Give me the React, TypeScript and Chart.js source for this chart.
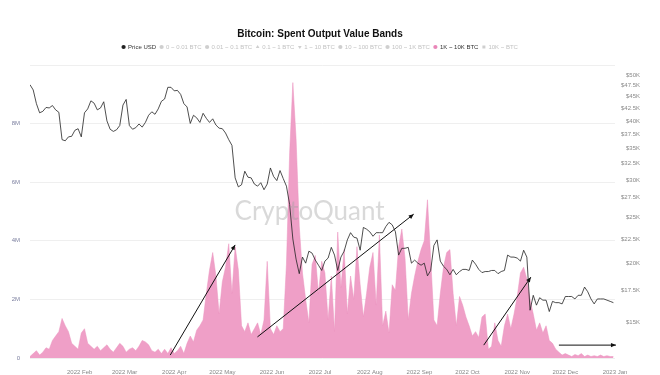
import React, { useEffect, useRef } from 'react';
import { Chart, registerables } from 'chart.js';
Chart.register(...registerables);

const TITLE = 'Bitcoin: Spent Output Value Bands';
const LEGEND_LABELS = ['Price USD', '0 ~ 0.01 BTC', '0.01 ~ 0.1 BTC', '0.1 ~ 1 BTC', '1 ~ 10 BTC', '10 ~ 100 BTC', '100 ~ 1K BTC', '1K ~ 10K BTC', '10K ~ BTC'];
const ACTIVE_LABELS = ['Price USD', '1K ~ 10K BTC'];
const LEGEND_POINTS = ['circle', 'circle', 'circle', 'triangle', 'triangle', 'circle', 'circle', 'circle', 'rect'];
const LEGEND_ROT = [0, 0, 0, 0, 180, 0, 0, 0, 0];
const BAND_LABEL = '1K ~ 10K BTC';

// samples every 2 days starting 2022-01-01
const SAMPLE_STEP_DAYS = 2;

// BTC price, thousand USD
const priceUsdK = [
  47.7, 46.5, 43.5, 41.6, 41.9, 42.7, 42.6, 43.1, 42.2, 41.7, 36.5, 36.3, 37.0, 37.1, 38.2, 38.5,
  37.0, 41.6, 42.4, 44.1, 43.6, 42.2, 42.6, 43.9, 40.0, 38.4, 38.0, 38.3, 39.1, 43.2,
  44.4, 39.1, 38.4, 38.7, 39.4, 38.8, 39.7, 41.1, 41.8, 41.3, 42.4, 44.0, 44.5, 47.1, 47.1,
  46.3, 46.4, 45.5, 43.5, 42.8, 39.5, 41.1, 40.6, 39.7, 41.5, 40.5, 39.7, 40.4, 39.2, 38.6,
  38.5, 37.7, 36.5, 35.5, 30.3, 29.0, 29.3, 31.3, 30.4, 30.3, 29.4, 29.1, 29.6, 28.6, 29.4, 31.8,
  30.5, 29.9, 31.4, 30.2, 29.1, 26.6, 22.5, 20.4, 19.0, 20.6, 20.0, 21.2, 21.0, 20.3, 19.8,
  19.3, 20.2, 20.5, 21.6, 20.8, 19.3, 20.6, 21.2, 22.4, 23.2, 22.7, 22.6, 21.3, 23.8, 23.6,
  23.3, 22.8, 23.2, 23.2, 23.2, 23.9, 24.4, 24.1, 23.3, 20.8, 21.5, 21.5, 21.6, 20.0, 20.3, 20.0,
  19.8, 20.0, 18.8, 19.3, 21.8, 22.4, 20.2, 19.7, 19.4, 18.9, 19.4, 18.9, 19.2, 19.4, 19.4,
  19.3, 20.3, 19.9, 19.4, 19.1, 19.2, 19.2, 19.3, 19.3, 19.0, 19.2, 19.3, 20.8, 20.6, 20.6,
  20.5, 20.2, 21.3, 20.6, 15.9, 17.1, 16.3, 16.9, 16.7, 16.7, 15.8, 16.6, 16.5, 16.5, 16.4,
  17.0, 17.0, 17.0, 16.8, 17.1, 17.1, 17.8, 17.4, 16.8, 16.4, 16.8, 16.8, 16.8, 16.7, 16.6, 16.5,
];

// 1K ~ 10K BTC band, millions
const band1k10kM = [
  0.05, 0.15, 0.25, 0.1, 0.2, 0.35, 0.3, 0.6, 0.75, 0.9, 1.35, 1.1, 0.9, 0.5, 0.4, 0.3,
  0.85, 1.0, 0.5, 0.4, 0.3, 0.4, 0.25, 0.35, 0.45, 0.3, 0.2, 0.35, 0.5, 0.4,
  0.2, 0.3, 0.35, 0.25, 0.4, 0.6, 0.55, 0.45, 0.25, 0.2, 0.3, 0.15, 0.3, 0.15, 0.35,
  0.15, 0.25, 0.4, 0.15, 0.5, 0.75, 0.55, 0.95, 1.1, 1.3, 2.2, 3.0, 3.6, 2.8, 1.5,
  2.6, 3.1, 3.9, 2.2, 3.8, 3.0, 1.1, 0.9, 1.2, 0.8, 1.0, 1.2, 0.8, 1.3, 3.3, 1.0,
  0.8, 1.1, 0.9, 1.0, 3.2, 7.0, 9.4, 7.5, 4.5, 2.9, 2.0, 1.2, 3.2, 3.5, 2.2,
  3.3, 2.9, 1.3, 2.8, 0.9, 4.3, 2.4, 3.7, 1.5, 2.8, 2.0, 3.8, 2.5, 1.4, 2.2,
  3.1, 3.6, 1.8, 4.2, 1.1, 1.6, 0.85, 2.5, 2.3, 3.8, 4.4, 3.4, 1.3, 2.2, 2.8, 3.3,
  3.7, 4.0, 5.4, 3.4, 1.3, 1.1, 2.2, 3.1, 3.6, 3.7, 2.2, 1.1, 2.1, 1.8, 1.4,
  1.1, 0.75, 0.9, 0.7, 1.4, 1.5, 0.3, 0.4, 1.2, 0.6, 0.4, 1.1, 1.5, 1.0, 1.5,
  2.1, 2.9, 3.1, 2.7, 2.0, 1.5, 0.95, 1.2, 0.85, 1.1, 0.6, 0.5, 0.3, 0.2, 0.1,
  0.15, 0.1, 0.05, 0.12, 0.08, 0.15, 0.05, 0.1, 0.05, 0.08, 0.05, 0.1, 0.05, 0.08, 0.05, 0.05,
];

const monthTickDays = [31, 59, 90, 120, 151, 181, 212, 243, 273, 304, 334, 365];
const monthTickLabels = ['2022 Feb', '2022 Mar', '2022 Apr', '2022 May', '2022 Jun', '2022 Jul', '2022 Aug', '2022 Sep', '2022 Oct', '2022 Nov', '2022 Dec', '2023 Jan'];
const leftTicksM = [0, 2, 4, 6, 8, 10];
const rightTicksK = [15, 17.5, 20, 22.5, 25, 27.5, 30, 32.5, 35, 37.5, 40, 42.5, 45, 47.5, 50];

// hand-drawn arrows (day index, millions)
const arrowStartDay = [87.5, 141.9, 283.1, 330];
const arrowStartM = [0.1, 0.72, 0.44, 0.44];
const arrowEndDay = [128, 239.4, 312.5, 365.6];
const arrowEndM = [3.86, 4.91, 2.76, 0.44];

const FONT = "'Liberation Sans', Arial, sans-serif";

export default function App() {
  const ref = useRef<HTMLCanvasElement>(null);
  useEffect(() => {
    document.body.style.margin = '0';
    const days = priceUsdK.map((_, i) => i * SAMPLE_STEP_DAYS);
    const pricePts = priceUsdK.map((v, i) => ({ x: days[i], y: v * 1000 }));
    const bandPts = band1k10kM.map((v, i) => ({ x: days[i], y: v * 1e6 }));

    const watermark = {
      id: 'watermark',
      afterDatasetsDraw(chart: any) {
        const { ctx, chartArea } = chart;
        ctx.save();
        ctx.font = `26px Lato, ${FONT}`;
        ctx.fillStyle = 'rgba(160,160,160,0.4)';
        ctx.textAlign = 'center';
        ctx.textBaseline = 'middle';
        const cx = chartArea.left + (chartArea.right - chartArea.left) * 0.478;
        const cy = chartArea.top + (chartArea.bottom - chartArea.top) * 0.5;
        ctx.fillText('CryptoQuant', cx, cy);
        ctx.restore();
      },
    };
    const arrows = {
      id: 'arrows',
      afterDatasetsDraw(chart: any) {
        const { ctx } = chart;
        const xs = chart.scales.x;
        const ys = chart.scales.yVal;
        ctx.save();
        ctx.strokeStyle = '#111';
        ctx.fillStyle = '#111';
        ctx.lineWidth = 1;
        for (let i = 0; i < arrowStartDay.length; i++) {
          const x1 = xs.getPixelForValue(arrowStartDay[i]);
          const y1 = ys.getPixelForValue(arrowStartM[i] * 1e6);
          const x2 = xs.getPixelForValue(arrowEndDay[i]);
          const y2 = ys.getPixelForValue(arrowEndM[i] * 1e6);
          ctx.beginPath();
          ctx.moveTo(x1, y1);
          ctx.lineTo(x2, y2);
          ctx.stroke();
          const a = Math.atan2(y2 - y1, x2 - x1);
          const L = 5, W = 2.2;
          ctx.beginPath();
          ctx.moveTo(x2, y2);
          ctx.lineTo(x2 - L * Math.cos(a) + W * Math.sin(a), y2 - L * Math.sin(a) - W * Math.cos(a));
          ctx.lineTo(x2 - L * Math.cos(a) - W * Math.sin(a), y2 - L * Math.sin(a) + W * Math.cos(a));
          ctx.closePath();
          ctx.fill();
        }
        ctx.restore();
      },
    };

    const chart = new Chart(ref.current as HTMLCanvasElement, {
      type: 'line',
      data: {
        datasets: [
          {
            label: LEGEND_LABELS[0],
            data: pricePts,
            yAxisID: 'yPrice',
            borderColor: '#222',
            backgroundColor: '#222',
            borderWidth: 0.8,
            pointRadius: 0,
            fill: false,
            tension: 0,
            order: 0,
          },
          ...LEGEND_LABELS.slice(1).map((lab) => ({
            label: lab,
            data: lab === BAND_LABEL ? bandPts : [],
            yAxisID: 'yVal',
            backgroundColor: '#ef9fc7',
            borderColor: '#ea92be',
            borderWidth: 0.5,
            pointRadius: 0,
            fill: 'origin',
            tension: 0,
            order: 1,
          })),
        ],
      } as any,
      options: {
        responsive: false,
        animation: false,
        events: [],
        layout: { padding: { left: 0, right: 20, top: 0, bottom: 0 } },
        font: { family: FONT },
        plugins: {
          tooltip: { enabled: false },
          title: {
            display: true,
            text: TITLE,
            color: '#111',
            font: { size: 10, weight: 'bold', family: FONT },
            padding: { top: 28, bottom: 0 },
          },
          subtitle: {
            display: true,
            text: '',
            weight: 500,
            font: { size: 4.2 },
            padding: 0,
          } as any,
          legend: {
            display: true,
            position: 'top',
            labels: {
              usePointStyle: true,
              boxWidth: 3,
              boxHeight: 3,
              padding: 4,
              font: { size: 6, family: FONT },
              generateLabels: (c: any) => {
                const items = (Chart.defaults.plugins.legend.labels as any).generateLabels(c);
                return items.map((it: any, i: number) => {
                  const active = ACTIVE_LABELS.includes(it.text);
                  const col = active ? (it.text === BAND_LABEL ? '#e986b8' : '#222') : '#cfcfcf';
                  return {
                    ...it,
                    hidden: false,
                    fontColor: active ? '#333' : '#c2c2c2',
                    fillStyle: col,
                    strokeStyle: col,
                    lineWidth: 0,
                    pointStyle: LEGEND_POINTS[i],
                    rotation: LEGEND_ROT[i],
                  };
                });
              },
            },
          },
        },
        scales: {
          x: {
            type: 'linear',
            min: 0,
            max: 365,
            grid: { display: false },
            border: { display: false },
            afterBuildTicks: (s: any) => {
              s.ticks = monthTickDays.map((v) => ({ value: v }));
            },
            afterFit: (s: any) => {
              s.height = 17;
            },
            ticks: {
              autoSkip: false,
              maxRotation: 0,
              padding: 3,
              color: '#888',
              font: { size: 6, family: FONT },
              callback: (v: any) => {
                const i = monthTickDays.indexOf(Number(v));
                return i >= 0 ? monthTickLabels[i] : '';
              },
            },
          },
          yVal: {
            type: 'linear',
            position: 'left',
            min: 0,
            max: 10e6,
            afterBuildTicks: (s: any) => {
              s.ticks = leftTicksM.map((v) => ({ value: v * 1e6 }));
            },
            afterFit: (s: any) => {
              s.width = 30;
            },
            grid: { color: '#ebebeb', lineWidth: 0.8, drawTicks: false },
            border: { display: false },
            ticks: {
              padding: 10,
              color: '#7d80a0',
              font: { size: 6, family: FONT },
              callback: (v: any) => (v === 0 ? '0' : v >= 10e6 ? '' : `${v / 1e6}M`),
            },
          },
          yPrice: {
            type: 'logarithmic',
            position: 'right',
            min: 12600,
            max: 52500,
            afterBuildTicks: (s: any) => {
              s.ticks = rightTicksK.map((v) => ({ value: v * 1000 }));
            },
            afterFit: (s: any) => {
              s.width = 25;
            },
            grid: { display: false, drawTicks: false },
            border: { display: false },
            ticks: {
              autoSkip: false,
              crossAlign: 'far',
              padding: 7,
              color: '#888',
              font: { size: 6, family: FONT },
              callback: (v: any) => `$${Number(v) / 1000}K`,
            },
          },
        },
      } as any,
      plugins: [watermark, arrows],
    });
    return () => chart.destroy();
  }, []);
  return (
    <div style={{ width: 660, height: 375 }}>
      <canvas ref={ref} width={660} height={375} style={{ display: 'block' }} />
    </div>
  );
}
